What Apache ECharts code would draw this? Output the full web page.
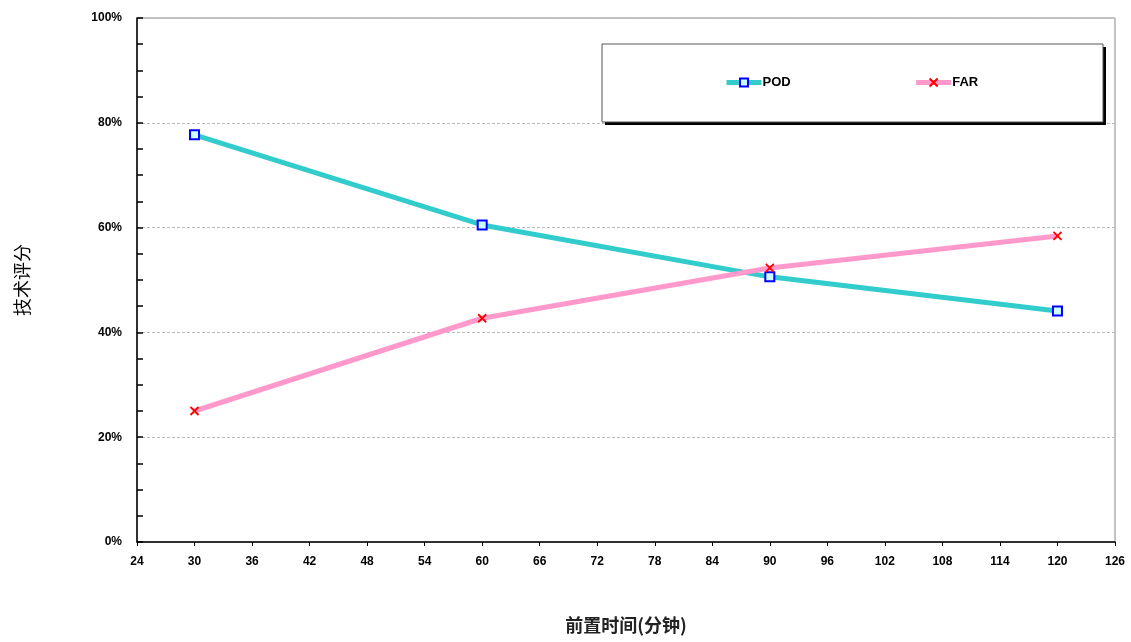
<!DOCTYPE html>
<html>
<head>
<meta charset="utf-8">
<script src="https://cdn.jsdelivr.net/npm/echarts@6/dist/echarts.min.js"></script>
<style>html,body{margin:0;padding:0;background:#fff}#c{width:1131px;height:642px}</style>
</head>
<body>
<div id="c"></div>
<script>
var leadTimes = [30, 60, 90, 120];
var podValues = [77.7, 60.5, 50.6, 44.1];
var farValues = [25.0, 42.7, 52.3, 58.4];
var seriesNames = ['POD', 'FAR'];
var xTitle = '前置时间(分钟)';
var yTitle = '技术评分';

function pairs(xs, ys) { return xs.map(function (x, i) { return [x, ys[i]]; }); }

var labelFont = { fontFamily: 'Liberation Sans, Arial, sans-serif', fontWeight: 'bold', fontSize: 12, color: '#000' };
var chart = echarts.init(document.getElementById('c'));
chart.setOption({
  animation: false,
  backgroundColor: '#fff',
  grid: { left: 137, right: 16, top: 18, bottom: 100, show: true, borderColor: '#888', borderWidth: 1, backgroundColor: 'transparent', containLabel: false, outerBoundsMode: 'none' },
  graphic: [
    { type: 'rect', z: 90, shape: { x: 605, y: 47, width: 501, height: 78 }, style: { fill: '#000' } },
    { type: 'rect', z: 91, shape: { x: 602, y: 44, width: 501, height: 78 }, style: { fill: '#fff', stroke: '#555', lineWidth: 1 } }
  ],
  legend: {
    left: 602, top: 44, z: 100,
    padding: [32, 122, 34, 122],
    itemGap: 123,
    itemWidth: 35, itemHeight: 10,
    lineStyle: { width: 5 },
    textStyle: { fontFamily: 'Liberation Sans, Arial, sans-serif', fontWeight: 'bold', fontSize: 13, color: '#000', padding: [0, 0, 0, -4] },
    data: seriesNames
  },
  xAxis: {
    type: 'value', min: 24, max: 126, interval: 6,
    name: xTitle, nameLocation: 'middle', nameGap: 74,
    nameTextStyle: { fontFamily: 'Noto Sans CJK SC', fontWeight: 'bold', fontSize: 18, color: '#222' },
    axisLine: { show: true, lineStyle: { color: '#000', width: 1.5 } },
    axisTick: { show: true, inside: false, length: 4, lineStyle: { color: '#000' } },
    axisLabel: Object.assign({ margin: 14 }, labelFont),
    splitLine: { show: false }
  },
  yAxis: {
    type: 'value', min: 0, max: 100, interval: 20,
    name: yTitle, nameLocation: 'middle', nameGap: 106,
    nameTextStyle: { fontFamily: 'Noto Sans CJK SC', fontSize: 18, color: '#000' },
    axisLine: { show: true, lineStyle: { color: '#000', width: 1.5 } },
    axisTick: { show: true, inside: true, length: 6, lineStyle: { color: '#000', width: 1.5 } },
    minorTick: { show: true, splitNumber: 4, length: 6, lineStyle: { color: '#000', width: 1.5 } },
    axisLabel: Object.assign({ margin: 15, formatter: '{value}%' }, labelFont),
    splitLine: { show: true, lineStyle: { color: '#bbb', type: [3, 2], width: 1 } }
  },
  series: [
    {
      name: 'POD', type: 'line', data: pairs(leadTimes, podValues),
      symbol: 'rect', symbolSize: 9,
      lineStyle: { color: '#33CCCC', width: 5 },
      itemStyle: { color: '#CCFFFF', borderColor: '#0000FF', borderWidth: 2 },
      z: 3
    },
    {
      name: 'FAR', type: 'line', data: pairs(leadTimes, farValues),
      symbol: 'path://M0,0L10,10M10,0L0,10', symbolSize: 8,
      lineStyle: { color: '#FF99CC', width: 5 },
      itemStyle: { color: 'transparent', borderColor: '#FF0000', borderWidth: 1.8 },
      z: 4
    }
  ]
});
</script>
</body>
</html>
